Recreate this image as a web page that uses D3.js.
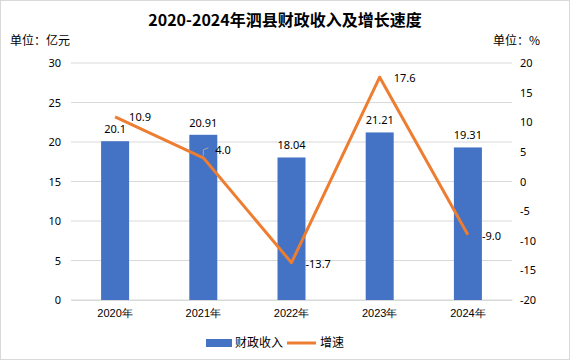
<!DOCTYPE html>
<html>
<head>
<meta charset="utf-8">
<script src="https://cdn.jsdelivr.net/npm/d3@7"></script>
<style>
  body { margin: 0; background: #fff; }
  svg { font-family: "Noto Sans CJK SC", "Noto Sans", sans-serif; }
</style>
</head>
<body>
<svg width="570" height="360"></svg>
<script>
const years = ["2020年", "2021年", "2022年", "2023年", "2024年"];
const revenue = [20.1, 20.91, 18.04, 21.21, 19.31];
const growth = [10.9, 4.0, -13.7, 17.6, -9.0];
const leftTicks = [0, 5, 10, 15, 20, 25, 30];
const rightTicks = [-20, -15, -10, -5, 0, 5, 10, 15, 20];

const width = 570, height = 360;
const margin = {top: 63, right: 58, bottom: 60, left: 71};
const plotW = width - margin.left - margin.right;
const plotH = height - margin.top - margin.bottom;

const svg = d3.select("svg");

svg.append("rect")
    .attr("x", 0.5).attr("y", 0.5)
    .attr("width", width - 1).attr("height", height - 1)
    .attr("fill", "#fff")
    .attr("stroke", "#d9d9d9");

svg.append("text")
    .attr("x", width / 2)
    .attr("y", 26)
    .attr("text-anchor", "middle")
    .attr("font-size", "16px")
    .attr("font-weight", "bold")
    .attr("fill", "#000")
    .text("2020-2024年泗县财政收入及增长速度");

svg.append("text")
    .attr("x", 10).attr("y", 45)
    .attr("font-size", "12px")
    .text("单位：亿元");

svg.append("text")
    .attr("x", 493).attr("y", 45)
    .attr("font-size", "12px")
    .text("单位：%");

const g = svg.append("g")
    .attr("transform", `translate(${margin.left},${margin.top})`);

const x = d3.scaleBand()
    .domain(years)
    .range([0, plotW])
    .padding(0);

const yL = d3.scaleLinear().domain([0, 30]).range([plotH, 0]);
const yR = d3.scaleLinear().domain([-20, 20]).range([plotH, 0]);

// gridlines
g.selectAll(".grid")
    .data(leftTicks)
    .join("line")
    .attr("class", "grid")
    .attr("x1", 0).attr("x2", plotW)
    .attr("y1", d => yL(d)).attr("y2", d => yL(d))
    .attr("stroke", "#d9d9d9")
    .attr("stroke-width", 1);

// left axis
const axL = g.append("g")
    .call(d3.axisLeft(yL).tickValues(leftTicks).tickSize(0).tickPadding(10));
axL.select(".domain").remove();
axL.selectAll("text").attr("font-size", "11px").attr("fill", "#000")
    .style("font-family", "\"Noto Sans\", sans-serif");

// right axis
const axR = g.append("g")
    .attr("transform", `translate(${plotW},0)`)
    .call(d3.axisRight(yR).tickValues(rightTicks).tickFormat(d => String(d)).tickSize(0).tickPadding(8));
axR.select(".domain").remove();
axR.selectAll("text").attr("font-size", "11px").attr("fill", "#000")
    .style("font-family", "\"Noto Sans\", sans-serif");

// x axis
const axB = g.append("g")
    .attr("transform", `translate(0,${plotH})`)
    .call(d3.axisBottom(x).tickSize(0).tickPadding(9));
axB.select(".domain").attr("stroke", "#d9d9d9");
axB.selectAll("text").attr("font-size", "11px").attr("fill", "#000");

// bars
const barW = 28;
g.selectAll(".bar")
    .data(revenue)
    .join("rect")
    .attr("class", "bar")
    .attr("x", (d, i) => x(years[i]) + x.bandwidth() / 2 - barW / 2)
    .attr("y", d => yL(d))
    .attr("width", barW)
    .attr("height", d => plotH - yL(d))
    .attr("fill", "#4472C4");

g.selectAll(".bar-label")
    .data(revenue)
    .join("text")
    .attr("class", "bar-label")
    .attr("x", (d, i) => x(years[i]) + x.bandwidth() / 2)
    .attr("y", d => yL(d) - 8)
    .attr("text-anchor", "middle")
    .attr("font-size", "11px")
    .style("font-family", "\"Noto Sans\", sans-serif")
    .text(d => d);

// line
const cx = i => x(years[i]) + x.bandwidth() / 2;
g.append("path")
    .datum(growth)
    .attr("d", d3.line().x((d, i) => cx(i)).y(d => yR(d)))
    .attr("fill", "none")
    .attr("stroke", "#ED7D31")
    .attr("stroke-width", 3)
    .attr("stroke-linejoin", "round");

// leader line for 4.0
g.append("path")
    .attr("d", `M${cx(1)},${yR(growth[1]) - 2} L${cx(1)},${yR(growth[1]) - 8} L${cx(1) + 5},${yR(growth[1]) - 10}`)
    .attr("fill", "none")
    .attr("stroke", "#a6a6a6")
    .attr("stroke-width", 1);

const lineLabelDy = [0, -8, 1, 1, 1];
g.selectAll(".line-label")
    .data(growth)
    .join("text")
    .attr("class", "line-label")
    .attr("x", (d, i) => cx(i) + (i === 1 ? 12 : 14))
    .attr("y", (d, i) => yR(d) + lineLabelDy[i])
    .attr("dy", "0.35em")
    .attr("font-size", "11px")
    .style("font-family", "\"Noto Sans\", sans-serif")
    .text(d => d.toFixed(1));

// legend
const legend = svg.append("g").attr("transform", "translate(206,343)");
legend.append("rect")
    .attr("x", 0).attr("y", -4)
    .attr("width", 26).attr("height", 8)
    .attr("fill", "#4472C4");
legend.append("text")
    .attr("x", 29).attr("y", 0)
    .attr("dy", "0.35em")
    .attr("font-size", "12px")
    .text("财政收入");
legend.append("line")
    .attr("x1", 81).attr("x2", 110)
    .attr("y1", 0).attr("y2", 0)
    .attr("stroke", "#ED7D31")
    .attr("stroke-width", 3);
legend.append("text")
    .attr("x", 114).attr("y", 0)
    .attr("dy", "0.35em")
    .attr("font-size", "12px")
    .text("增速");
</script>
</body>
</html>
